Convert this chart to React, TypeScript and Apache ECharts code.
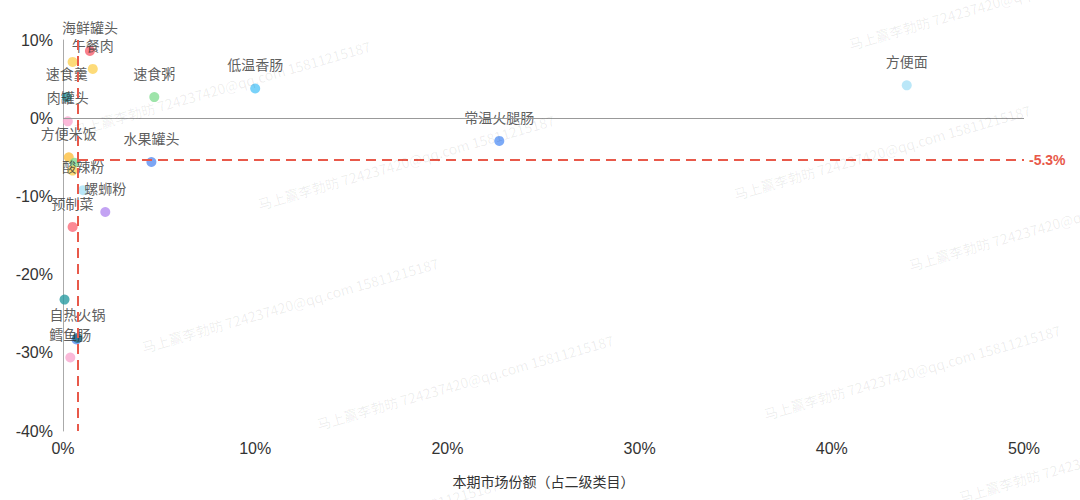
import React, { useEffect, useRef } from "react";
import * as echarts from "echarts";

// 二级类目：本期市场份额（%） vs 同比增长（%）
const names = [
  "海鲜罐头", "午餐肉", "", "速食羹", "肉罐头", "方便米饭", "", "",
  "酸辣粉", "螺蛳粉", "预制菜", "", "", "自热火锅", "鳕鱼肠",
  "速食粥", "水果罐头", "低温香肠", "常温火腿肠", "方便面",
];
const shares = [
  1.4, 1.55, 0.5, 0.2, 0.25, 0.3, 0.6, 0.5,
  1.05, 2.2, 0.5, 0.08, 0.7, 0.75, 0.38,
  4.75, 4.6, 10.0, 22.7, 43.9,
];
const growth = [
  8.6, 6.3, 7.2, 2.7, -0.4, -5.0, -5.7, -6.7,
  -9.2, -12.0, -13.9, -23.2, -28.3, -28.1, -30.6,
  2.7, -5.6, 3.8, -2.9, 4.2,
];
const colors = [
  "#f8606f", "#fdd258", "#fdd258", "#2a9ca3", "#f9a8cf", "#fcbf3e", "#7fdb8f", "#fdd258",
  "#a9e1f6", "#b48cf0", "#fb6b7b", "#2a9ca3", "#5b8ff0", "#1f6f86", "#f9a8cf",
  "#86dd95", "#5b8ff0", "#57c7f7", "#5b95f5", "#a9e1f6",
];

// 参考线
const avgShare = 0.78;
const avgGrowth = -5.3;

const xTicks = { min: 0, max: 50, interval: 10 };
const yTicks = { min: -40, max: 10, interval: 10 };

const watermarkText = "马上赢李勃昉 724237420@qq.com 15811215187";
const watermarkSpots = [
  [222, 88], [406, 162], [997, 2], [882, 152], [290, 305],
  [465, 382], [1057, 223], [912, 372], [1107, 455], [350, 527],
];

const App: React.FC = () => {
  const chartRef = useRef<HTMLDivElement>(null);

  useEffect(() => {
    document.body.style.margin = "0";
    if (!chartRef.current) return;
    const chart = echarts.init(chartRef.current, null, { renderer: "svg" });

    const red = "#e8594a";
    const font = "'Liberation Sans', 'Noto Sans CJK SC', sans-serif";
    const cjk = "'Noto Sans CJK SC', sans-serif";

    const points = names.map((n, i) => ({
      name: n,
      value: [shares[i], growth[i]],
      itemStyle: { color: colors[i] },
      label: { show: n !== "" },
    }));

    const option = {
      animation: false,
      backgroundColor: "#fff",
      grid: { left: 63, right: 56, top: 40, bottom: 69, outerBoundsMode: "none" },
      graphic: watermarkSpots.map(([x, y]) => ({
        type: "text",
        x,
        y,
        rotation: (16 * Math.PI) / 180,
        silent: true,
        z: 100,
        style: {
          text: watermarkText,
          fill: "rgba(0,0,0,0.075)",
          font: `14px ${cjk}`,
          align: "center",
          verticalAlign: "middle",
        },
      })),
      xAxis: {
        type: "value",
        ...xTicks,
        name: "本期市场份额（占二级类目）",
        nameLocation: "middle",
        nameGap: 43,
        nameTextStyle: { fontSize: 14, color: "#333", fontFamily: cjk },
        axisLine: { show: false },
        axisTick: { show: false },
        splitLine: { show: false },
        axisLabel: { formatter: "{value}%", fontSize: 16, color: "#333", margin: 9, fontFamily: font },
      },
      yAxis: {
        type: "value",
        ...yTicks,
        axisLine: { show: true, lineStyle: { color: "#aaa", width: 1 } },
        axisTick: { show: false },
        splitLine: { show: false },
        axisLabel: { formatter: "{value}%", fontSize: 16, color: "#333", margin: 10, fontFamily: font },
      },
      series: [
        {
          type: "scatter",
          symbolSize: 10,
          data: points,
          label: {
            position: "top",
            distance: 12,
            formatter: "{b}",
            fontSize: 14,
            color: "#333",
            fontFamily: cjk,
          },
          markLine: {
            silent: true,
            symbol: "none",
            animation: false,
            data: [
              [
                {
                  coord: [0, 0],
                  lineStyle: { color: "#999", width: 1, type: "solid" },
                  label: { show: false },
                },
                { coord: [xTicks.max, 0] },
              ],
              [
                {
                  coord: [avgShare, yTicks.max],
                  lineStyle: { color: red, width: 2, type: [10, 6] },
                  label: { show: false },
                },
                { coord: [avgShare, yTicks.min] },
              ],
              [
                {
                  coord: [avgShare, avgGrowth],
                  lineStyle: { color: red, width: 2, type: [10, 6] },
                  label: {
                    show: true,
                    position: "end",
                    formatter: `${avgGrowth}%`,
                    color: red,
                    fontSize: 14,
                    fontWeight: "bold",
                    fontFamily: font,
                  },
                },
                { coord: [xTicks.max, avgGrowth] },
              ],
            ],
          },
        },
      ],
    };

    chart.setOption(option as any);

    return () => {
      chart.dispose();
    };
  }, []);

  return <div ref={chartRef} style={{ width: 1080, height: 500 }} />;
};

export default App;
